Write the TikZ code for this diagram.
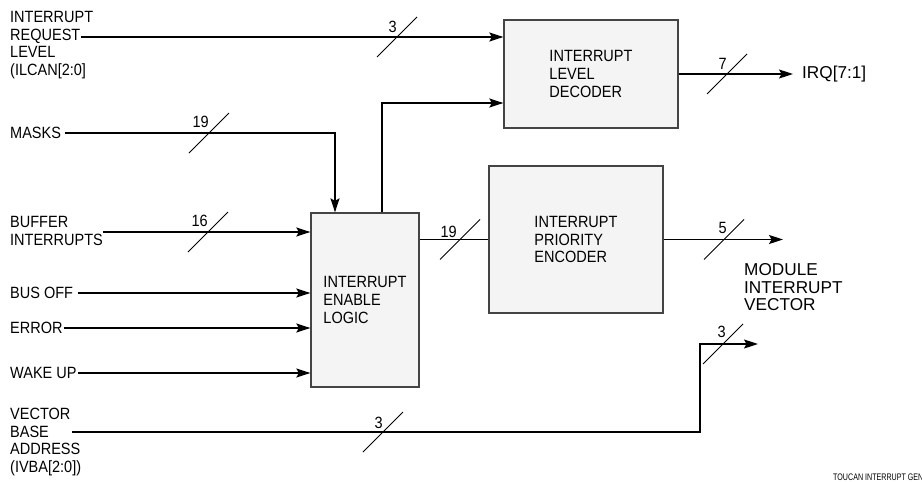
\documentclass[tikz,border=0pt]{standalone}
\usepackage{fontspec}
\setmainfont{Liberation Sans}[FakeStretch=0.89]
\newfontfamily\widefont{Liberation Sans}
\newfontfamily\tinyfont{Liberation Sans}[FakeStretch=0.75]
\usetikzlibrary{arrows.meta,calc}
\definecolor{boxfill}{HTML}{F4F4F4}
\definecolor{boxline}{HTML}{444444}
\begin{document}
\begin{tikzpicture}[x=1pt,y=-1pt,
  lbl/.style={font=\fontsize{16.3}{17.6}\selectfont, inner sep=0pt, align=left},
  wlbl/.style={font=\widefont\fontsize{17.2}{17.6}\selectfont, inner sep=0pt, align=left},
  blk/.style={draw=boxline, fill=boxfill, line width=1.3pt, lbl},
  wire/.style={line width=1.25pt},
  arr/.style={wire, -{Stealth[length=14pt,width=9pt,inset=2.5pt]}},
  sl/.style={line width=1pt},
  num/.style={lbl, anchor=south east}]
\useasboundingbox (0,0) rectangle (922,482);

% blocks
\node[blk, minimum width=174pt, minimum height=108pt] (dec) at (591,74) {INTERRUPT\\LEVEL\\DECODER};
\node[blk, minimum width=174pt, minimum height=147pt] (enc) at (576,239.5) {INTERRUPT\\PRIORITY\\ENCODER};
\node[blk, minimum width=108pt, minimum height=174pt] (ena) at (365,300) {INTERRUPT\\ENABLE\\LOGIC};

% labels
\node[lbl, anchor=west] (irl) at (10,45) {INTERRUPT\\REQUEST\\LEVEL\\(ILCAN[2:0]};
\node[lbl, anchor=west] (masks) at (10,133) {MASKS};
\node[lbl, anchor=west] (buf) at (10,231) {BUFFER\\INTERRUPTS};
\node[lbl, anchor=west] (busoff) at (10,293) {BUS OFF};
\node[lbl, anchor=west] (err) at (10,328) {ERROR};
\node[lbl, anchor=west] (wake) at (10,373) {WAKE UP};
\node[lbl, anchor=west] (vba) at (10,442) {VECTOR\\BASE\\ADDRESS\\(IVBA[2:0])};
\node[wlbl, anchor=west] (irq) at (802,74) {IRQ[7:1]};
\node[wlbl, anchor=north west] (miv) at (744,263.5) {MODULE\\INTERRUPT\\VECTOR};
\node[font=\tinyfont\fontsize{9.5}{10}\selectfont, anchor=west, inner sep=0pt] (foot) at (833,477) {TOUCAN INTERRUPT GEN};

% coordinates
\coordinate (irlS) at (81,37);
\coordinate (bufS) at (103,232);
\coordinate (vbaS) at (72,432);
\coordinate (xm) at (335,0);
\coordinate (xu) at (382,0);
\coordinate (decin2) at (0,103);
\coordinate (ivTip) at (783,239.5);
\coordinate (irqTip) at (793,0);
\coordinate (bendV) at (700,432);
\coordinate (vTip) at (758,344);

% connectors
\draw[arr] (irlS) -- (irlS -| dec.west);
\draw[arr] ([xshift=4pt]masks.east) -| (ena.north -| xm);
\draw[arr] (bufS) -- (bufS -| ena.west);
\draw[arr] ([xshift=5pt]busoff.east) -- (busoff.center -| ena.west);
\draw[arr] ([xshift=1pt]err.east) -- (err.center -| ena.west);
\draw[arr] ([xshift=1pt]wake.east) -- (wake.center -| ena.west);
\draw[arr] (ena.north -| xu) |- (dec.west |- decin2);
\draw[wire] (ena.east |- enc.west) -- (enc.west);
\draw[arr] (enc.east) -- (ivTip);
\draw[arr] (dec.east) -- (dec.east -| irqTip);
\draw[arr] (vbaS) -- (bendV) |- (vTip);

% bus slashes
\coordinate (c1) at (397,37);
\coordinate (c2) at (209,133);
\coordinate (c3) at (208,232);
\coordinate (c4) at (460,239.5);
\coordinate (c5) at (724,239.5);
\coordinate (c6) at (727,74);
\coordinate (c7) at (383,432);
\coordinate (c8) at (723,344);
\foreach \c in {c1,c2,c3,c4,c5,c6,c7,c8}
  \draw[sl] (\c) ++(-20,20) -- ++(40,-40);
\node[num] (n1) at (397,33) {3};
\node[num] (n2) at (209,128) {19};
\node[num] (n3) at (208,226.5) {16};
\node[num] (n4) at (457,237.5) {19};
\node[num] (n5) at (727,233.5) {5};
\node[num] (n6) at (727,70) {7};
\node[num] (n7) at (383,429) {3};
\node[num] (n8) at (726,338) {3};
\end{tikzpicture}
\end{document}
